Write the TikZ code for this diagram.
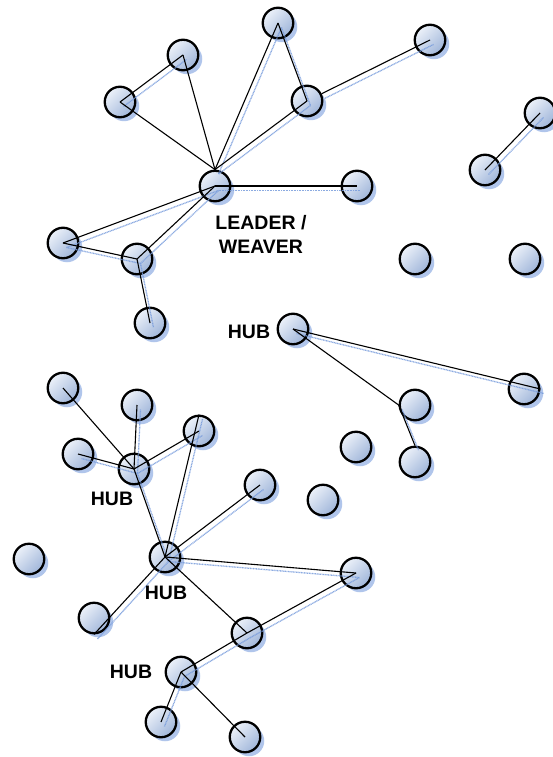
\documentclass[tikz,border=0pt]{standalone}
\usepackage{fontspec}
\setmainfont{Liberation Sans}
\usetikzlibrary{shadows}

\definecolor{ballhi}{RGB}{236,241,249}
\definecolor{balllo}{RGB}{160,182,218}
\definecolor{ballshadow}{RGB}{172,194,234}
\definecolor{linkshadow}{RGB}{120,156,220}

\tikzset{
  ball/.style={circle, draw=black, line width=2.3pt, minimum size=30.5pt, inner sep=0pt,
    shading=axis, top color=ballhi, bottom color=balllo, shading angle=45,
    drop shadow={shadow xshift=4pt, shadow yshift=-4pt, fill=ballshadow, opacity=0.95}},
  link/.style={draw=black, line width=1.1pt},
  linkshade/.style={draw=linkshadow, line width=1.3pt, dash pattern=on 1pt off 0.6pt, opacity=0.85},
  tag/.style={font=\bfseries\fontsize{19.5}{24}\selectfont, align=center, inner sep=0pt}
}

% connectors that carry a soft offset shadow
\def\shadedlinks{B.center/A.center, C.center/L.north, C.center/D.center, D.center/L.north,
  E.center/D, L.center/F.center, L.center/G.center, G.center/H.center, H.center/L.center,
  H.center/I.center, K.center/J.center, HUBb.center/N.east, M.west/O.north,
  Qn.center/HUBa.center, R.center/HUBa.center, HUBa.center/S.center, HUBa.center/HUBc.center,
  S.north/HUBc.center, T.center/HUBc.center, HUBc.center/U.center, HUBc.center/W.south,
  X.center/U.center, X.center/HUBd.center, HUBd.center/Y.center}
% connectors drawn without a shadow
\def\plainlinks{A.center/L.north, B.center/L.north, HUBb.center/M.west,
  P.center/HUBa.center, HUBc.center/X.center, HUBd.center/Z.center}

\begin{document}
\begin{tikzpicture}[x=1pt, y=-1pt]
\useasboundingbox (0,0) rectangle (552,757);

% upper network around the leader
\node[ball] (A) at (183,55) {};
\node[ball] (B) at (120,102) {};
\node[ball] (C) at (278,23) {};
\node[ball] (D) at (307,101) {};
\node[ball] (E) at (430,40) {};
\node[ball] (L) at (215,186) {};
\node[ball] (F) at (357,186) {};
\node[ball] (G) at (63,243) {};
\node[ball] (H) at (137,259) {};
\node[ball] (I) at (150,323) {};

% right-hand pair and loose members
\node[ball] (J) at (540,113) {};
\node[ball] (K) at (485,170) {};
\node[ball] (loneA) at (415,259) {};
\node[ball] (loneB) at (525,259) {};

% middle hub
\node[ball] (HUBb) at (293,329) {};
\node[ball] (M) at (415,405) {};
\node[ball] (N) at (524,389) {};
\node[ball] (O) at (415,462) {};
\node[ball] (loneC) at (356,447) {};
\node[ball] (loneD) at (323,500) {};

% lower network
\node[ball] (P) at (63,388) {};
\node[ball] (Qn) at (137,405) {};
\node[ball] (R) at (78,454) {};
\node[ball] (HUBa) at (134,469) {};
\node[ball] (S) at (199,431) {};
\node[ball] (T) at (260,485) {};
\node[ball] (V) at (29,559) {};
\node[ball] (HUBc) at (165,557) {};
\node[ball] (U) at (356,573) {};
\node[ball] (W) at (94,618) {};
\node[ball] (X) at (247,633) {};
\node[ball] (HUBd) at (181,672) {};
\node[ball] (Y) at (161,722) {};
\node[ball] (Z) at (245,737) {};

% shadows of the connectors
\begin{scope}[transform canvas={shift={(3.5pt,-4.5pt)}}]
  \foreach \a/\b in \shadedlinks { \draw[linkshade] (\a) -- (\b); }
\end{scope}

% connectors
\foreach \a/\b in \shadedlinks { \draw[link] (\a) -- (\b); }
\foreach \a/\b in \plainlinks { \draw[link] (\a) -- (\b); }

% labels
\node[tag] (leadtag) at (261,234) {LEADER /\\WEAVER};
\node[tag] (hubtagb) at (249,332) {HUB};
\node[tag] (hubtaga) at (112,499) {HUB};
\node[tag] (hubtagc) at (166,593) {HUB};
\node[tag] (hubtagd) at (131,672) {HUB};
\end{tikzpicture}
\end{document}
